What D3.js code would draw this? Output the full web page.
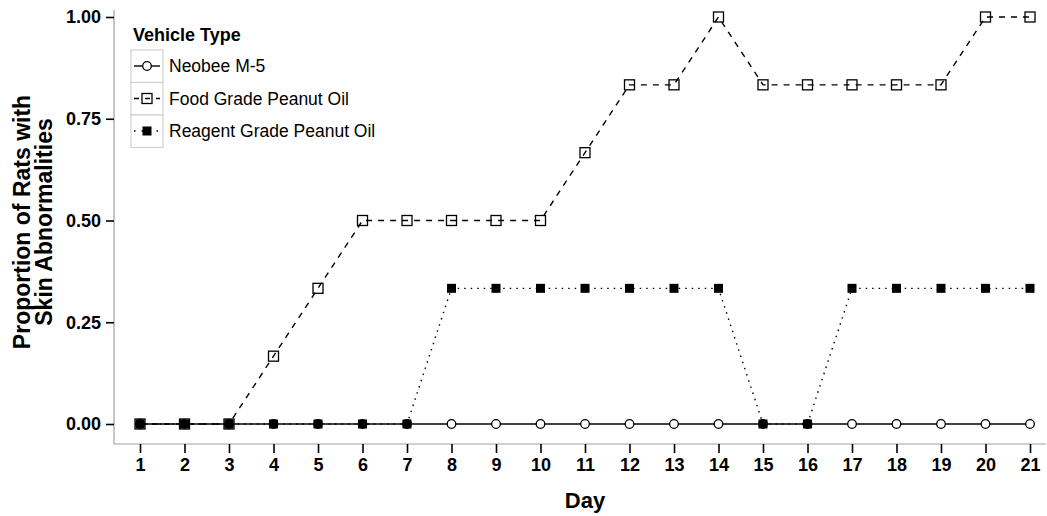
<!DOCTYPE html>
<html>
<head>
<meta charset="utf-8">
<script src="https://cdn.jsdelivr.net/npm/d3@7"></script>
<style>
  body { margin: 0; background: #fff; }
  text { font-family: Arial, "Liberation Sans", sans-serif; }
</style>
</head>
<body>
<div id="chart"></div>
<script>
const days = d3.range(1, 22);
const neobee = [0,0,0,0,0,0,0,0,0,0,0,0,0,0,0,0,0,0,0,0,0];
const foodGrade = [0,0,0,1/6,1/3,0.5,0.5,0.5,0.5,0.5,2/3,5/6,5/6,1,5/6,5/6,5/6,5/6,5/6,1,1];
const reagentGrade = [0,0,0,0,0,0,0,1/3,1/3,1/3,1/3,1/3,1/3,1/3,0,0,1/3,1/3,1/3,1/3,1/3];
const yTicks = [0, 0.25, 0.5, 0.75, 1];
const seriesNames = ["Neobee M-5", "Food Grade Peanut Oil", "Reagent Grade Peanut Oil"];

const width = 1047, height = 516;
const svg = d3.select("#chart").append("svg")
  .attr("width", width).attr("height", height);

// scales
const x = d3.scaleLinear().domain([1, 21]).range([140, 1030]);
const y = d3.scaleLinear().domain([0, 1]).range([424, 17]);

const series = [
  { name: seriesNames[0], values: neobee, dash: null, shape: "circle" },
  { name: seriesNames[1], values: foodGrade, dash: "6,6", shape: "square" },
  { name: seriesNames[2], values: reagentGrade, dash: "1.5,5", shape: "filled" }
];

// axis lines (grey)
svg.append("line").attr("x1", 114).attr("x2", 114).attr("y1", 10).attr("y2", 444)
  .attr("stroke", "#a0a0a0").attr("stroke-width", 1.2);
svg.append("line").attr("x1", 114).attr("x2", 1046).attr("y1", 444).attr("y2", 444)
  .attr("stroke", "#a0a0a0").attr("stroke-width", 1.2);

// y axis
const yAxis = svg.append("g").attr("transform", "translate(114,0)")
  .call(d3.axisLeft(y).tickValues(yTicks).tickFormat(d3.format(".2f")).tickSize(8).tickPadding(5));
yAxis.select(".domain").remove();
yAxis.selectAll("line").attr("stroke", "#000").attr("stroke-width", 1.6);
yAxis.selectAll("text").attr("font-size", 18).attr("font-weight", "bold").attr("fill", "#000");

// x axis
const xAxis = svg.append("g").attr("transform", "translate(0,444)")
  .call(d3.axisBottom(x).tickValues(days).tickFormat(d3.format("d")).tickSize(9).tickPadding(5));
xAxis.select(".domain").remove();
xAxis.selectAll("line").attr("stroke", "#000").attr("stroke-width", 1.6);
xAxis.selectAll("text").attr("font-size", 18).attr("font-weight", "bold").attr("fill", "#000");

// axis titles
svg.append("text").attr("x", x(11)).attr("y", 508).attr("text-anchor", "middle")
  .attr("font-size", 22).attr("font-weight", "bold").text("Day");
const yt = svg.append("text").attr("transform", "translate(0,222) rotate(-90)")
  .attr("text-anchor", "middle").attr("font-size", 23).attr("font-weight", "bold");
yt.append("tspan").attr("x", 0).attr("y", 30).text("Proportion of Rats with");
yt.append("tspan").attr("x", 0).attr("y", 52).text("Skin Abnormalities");

function drawMarker(g, shape, cx, cy) {
  if (shape === "circle") {
    g.append("circle").attr("cx", cx).attr("cy", cy).attr("r", 4.3)
      .attr("fill", "#fff").attr("stroke", "#000").attr("stroke-width", 1.3);
  } else if (shape === "square") {
    g.append("rect").attr("x", cx - 5).attr("y", cy - 5).attr("width", 10).attr("height", 10)
      .attr("fill", "none").attr("stroke", "#000").attr("stroke-width", 1.3);
  } else {
    g.append("rect").attr("x", cx - 4.5).attr("y", cy - 4.5).attr("width", 9).attr("height", 9)
      .attr("fill", "#000");
  }
}

const line = d3.line().x((d, i) => x(days[i])).y(d => y(d));

// lines then points
const plot = svg.append("g");
series.forEach(s => {
  plot.append("path").datum(s.values).attr("d", line)
    .attr("fill", "none").attr("stroke", "#000").attr("stroke-width", 1.4)
    .attr("stroke-dasharray", s.dash);
});
series.forEach(s => {
  s.values.forEach((v, i) => drawMarker(plot, s.shape, x(days[i]), y(v)));
});

// legend
const lg = svg.append("g");
lg.append("text").attr("x", 133).attr("y", 41).attr("font-size", 18).attr("font-weight", "bold")
  .text("Vehicle Type");
series.forEach((s, i) => {
  const top = 50 + i * 32.5;
  lg.append("rect").attr("x", 131).attr("y", top).attr("width", 32).attr("height", 32.5)
    .attr("fill", "#fff").attr("stroke", "#d0d0d0").attr("stroke-width", 1.2);
  lg.append("line").attr("x1", 134).attr("x2", 160).attr("y1", top + 16).attr("y2", top + 16)
    .attr("stroke", "#000").attr("stroke-width", 1.4).attr("stroke-dasharray", s.dash ? (i === 1 ? "5,6" : "1.5,6") : null);
  drawMarker(lg, s.shape, 147, top + 16);
  lg.append("text").attr("x", 169).attr("y", top + 22).attr("font-size", 17.5).text(s.name);
});
</script>
</body>
</html>
